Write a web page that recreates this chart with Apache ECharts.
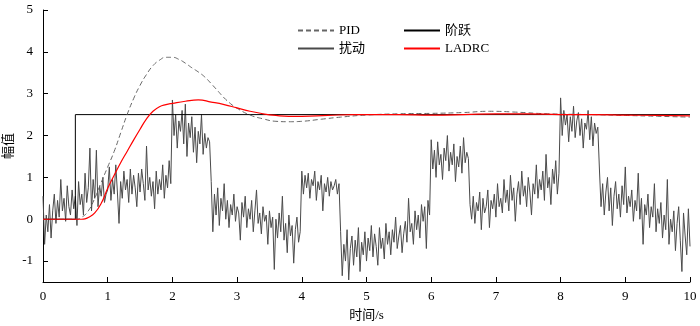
<!DOCTYPE html>
<html>
<head>
<meta charset="utf-8">
<script src="https://cdn.jsdelivr.net/npm/echarts@6/dist/echarts.min.js"></script>
<style>
  html, body { margin: 0; padding: 0; background: #fff; }
  #main { width: 700px; height: 326px; }
</style>
</head>
<body>
<div id="main"></div>
<script>
// sample step of the disturbance record, s
var dt = 0.025;

// disturbance (扰动), one value every 0.025 s from 0 to 10 s
var disturb = [
    // 0 - 2 s
    0.55, -0.6, 0.1, -0.3, 0.35, -0.45, 0.2, 0.6, -0.1, 0.45, 0.05, 0.95, 0.2, 0.5, -0.05, 0.8, 0.3, 0.1, 0.7, 0.25,
    0.55, -0.15, 0.9, 0.35, 0.6, 0.1, 1.1, 0.4, 0.75, 1.7, 0.2, 0.95, 0.5, 1.65, 0.3, 0.8, 0.55, 1.0, 0.4, 0.6,
    0.7, 1.25, 0.45, 0.95, 0.6, 1.3, 0.65, -0.1, 0.9, 0.5, 1.15, 0.7, 0.95, 0.4, 1.2, 0.6, 1.05, 0.75, 0.3, 1.1,
    0.65, 1.2, 0.85, 0.45, 1.75, 0.7, 1.0, 0.55, 0.9, 0.25, 1.15, 0.6, 0.95, 0.7, 1.3, 0.5, 1.05, 0.75, 1.4, 0.85,
    // 2 - 2.6 s
    2.85, 2.0, 2.5, 1.7, 2.35, 2.1, 2.6, 1.8, 2.75, 1.5, 2.3, 1.95, 2.45, 1.6, 2.2, 1.35, 2.1, 1.8, 2.5, 1.55, 2.05, 1.7, 1.95, 1.85,
    // 2.6 - 4 s
    0.9, -0.3, 0.6, 0.1, 0.75, -0.15, 0.5, 0.2, 0.85, 0.0, 0.45, -0.2, 0.35, 0.1, 0.6, -0.05, 0.3, 0.15, -0.5, 0.4,
    0.05, 0.55, -0.2, 0.25, 0.0, 0.45, -0.3, 0.2, 0.7, -0.1, 0.15, -0.35, 0.3, -0.05, 0.1, -0.6, 0.2, -0.2, 0.05, -1.2,
    0.0, -0.45, 0.15, -0.3, 0.55, -0.5, -0.1, -0.8, 0.1, -0.4, -0.15, -1.05, -0.25, 0.05, -0.55, -0.3,
    // 4 - 4.6 s
    1.15, 0.6, 1.05, 0.75, 1.1, 0.5, 0.95, 0.8, 1.15, 0.45, 0.9, 0.7, 1.05, 0.2, 0.85, 0.65, 1.0, 0.55, 0.9, 0.7, 0.8, 0.95, 0.6, 0.85,
    // 4.6 - 6 s
    -0.3, -1.35, -0.6, -1.0, -0.25, -1.45, -0.7, -0.4, -1.1, -0.5, -0.9, -0.2, -1.25, -0.55, -0.85, -0.3, -1.0, -0.45, -0.75, -0.15,
    -0.9, -0.35, -0.65, -1.1, -0.2, -0.7, -0.45, -0.95, -0.1, -0.6, -0.3, -0.85, -0.25, -0.55, 0.05, -0.7, -0.4, -0.15, -0.8, -0.35,
    -0.05, -0.55, 0.5, -0.3, -0.1, -0.6, 0.2, -0.25, 0.1, -0.45, 0.35, -0.05, 0.3, -0.7, 0.45, 0.1,
    // 6 - 6.6 s
    1.9, 1.2, 1.65, 1.0, 1.85, 1.3, 1.55, 0.95, 1.7, 1.4, 2.0, 1.15, 1.6, 1.3, 1.8, 0.9, 1.5, 1.25, 1.75, 1.1, 1.95, 1.35, 1.6, 1.45,
    // 6.6 - 8 s
    0.35, 0.0, 0.55, -0.1, 0.4, 0.2, 0.65, -0.25, 0.5, 0.15, 0.3, 0.7, -0.2, 0.45, 0.25, 0.6, 0.05, 0.85, 0.3, 0.5,
    0.15, 0.95, 0.4, 0.7, 0.2, 1.05, 0.45, 0.75, -0.05, 0.6, 0.9, 0.35, 1.15, 0.55, 0.8, 0.3, 1.0, 0.65, 0.1, 0.85,
    0.6, 1.3, 0.5, 0.95, 0.7, 1.15, 0.45, 1.55, 0.75, 1.0, 0.35, 1.2, 0.85, 1.4, 0.6, 1.1,
    // 8 - 8.6 s
    2.9, 2.0, 2.6, 2.25, 2.5, 1.85, 2.45, 2.1, 2.7, 1.95, 2.35, 2.55, 2.0, 2.4, 1.7, 2.3, 2.15, 2.6, 1.9, 2.45, 1.75, 2.3, 2.05, 2.2,
    // 8.6 - 10 s
    1.2, 0.3, 0.85, 0.1, 0.65, 1.0, 0.2, 0.75, -0.15, 0.55, 0.9, 0.25, 0.6, 0.05, 0.8, 0.35, 1.25, 0.15, 0.55, 0.3,
    0.7, -0.05, 0.45, 0.2, 1.1, 0.0, 0.5, -0.6, 0.35, 0.1, 0.6, -0.2, 0.3, 0.05, 0.85, -0.3, 0.25, -0.1, 0.4, -0.45,
    0.1, -0.25, 0.95, -0.6, 0.0, -0.3, 0.2, -0.75, -0.1, 0.3, -0.5, -1.25, 0.15, -0.4, -0.85, 0.25, -0.65
];

// step reference (阶跃)
var stepData = [[0, 0], [0.5, 0], [0.5, 2.5], [10, 2.5]];

// PID response
var pidData = [
    [0, 0], [0.5, 0], [0.6, 0.05], [0.7, 0.2], [0.8, 0.5], [0.9, 0.88], [1.0, 1.25], [1.1, 1.62],
    [1.2, 2.06], [1.3, 2.5], [1.4, 2.88], [1.5, 3.2], [1.6, 3.46], [1.7, 3.67], [1.8, 3.8], [1.9, 3.87],
    [2.0, 3.87], [2.1, 3.82], [2.2, 3.73], [2.3, 3.62], [2.4, 3.52], [2.5, 3.4], [2.6, 3.24], [2.7, 3.07],
    [2.8, 2.9], [2.9, 2.76], [3.0, 2.65], [3.2, 2.49], [3.4, 2.4], [3.6, 2.34], [3.8, 2.33], [4.0, 2.34],
    [4.3, 2.39], [4.6, 2.44], [5.0, 2.49], [5.5, 2.52], [6.0, 2.53], [6.5, 2.55], [6.9, 2.58], [7.3, 2.56],
    [7.8, 2.52], [8.5, 2.5], [9.0, 2.48], [9.5, 2.46], [10, 2.44]
];

// LADRC response
var ladrcData = [
    [0, 0], [0.6, 0], [0.65, 0.01], [0.7, 0.04], [0.8, 0.15], [0.9, 0.38], [1.0, 0.74], [1.1, 1.05],
    [1.2, 1.35], [1.3, 1.62], [1.4, 1.89], [1.5, 2.15], [1.6, 2.4], [1.7, 2.58], [1.8, 2.69], [1.9, 2.74],
    [2.0, 2.77], [2.2, 2.82], [2.4, 2.85], [2.6, 2.8], [2.8, 2.74], [3.0, 2.66], [3.2, 2.58], [3.4, 2.52],
    [3.6, 2.48], [3.8, 2.46], [4.0, 2.46], [4.4, 2.48], [4.8, 2.5], [5.5, 2.5], [6.0, 2.49], [6.5, 2.5],
    [7.0, 2.52], [7.5, 2.52], [8.0, 2.5], [8.5, 2.5], [9.0, 2.49], [9.5, 2.48], [10, 2.47]
];

var disturbData = disturb.map(function (v, i) {
    return [+(i * dt).toFixed(3), v];
});

var fontFamily = '"Liberation Serif", "Noto Sans CJK SC", serif';

var legendBase = {
    orient: 'vertical',
    top: 19,
    itemWidth: 36,
    itemHeight: 14,
    itemGap: 5,
    itemStyle: { opacity: 0 },
    textStyle: { fontFamily: fontFamily, fontSize: 13, color: '#000' }
};

var option = {
    animation: false,
    textStyle: { fontFamily: fontFamily },
    grid: { left: 43, right: 10, top: 10, bottom: 44, containLabel: false, outerBoundsMode: 'none' },
    legend: [
        Object.assign({ data: ['PID', '扰动'], left: 292 }, legendBase),
        Object.assign({ data: ['阶跃', 'LADRC'], left: 398 }, legendBase)
    ],
    xAxis: {
        type: 'value',
        min: 0,
        max: 10,
        interval: 1,
        name: '时间/s',
        nameLocation: 'middle',
        nameGap: 27,
        nameMoveOverlap: false,
        nameTextStyle: { fontFamily: fontFamily, fontSize: 13, color: '#000' },
        axisLine: { onZero: false, lineStyle: { color: '#000', width: 1 } },
        axisTick: { inside: true, length: 5, lineStyle: { color: '#000' } },
        axisLabel: { fontFamily: fontFamily, fontSize: 13, color: '#000', margin: 8 },
        splitLine: { show: false }
    },
    yAxis: {
        type: 'value',
        min: -1.5,
        max: 5,
        splitNumber: 6,
        name: '幅值',
        nameLocation: 'middle',
        nameRotate: 90,
        nameGap: 28,
        nameMoveOverlap: false,
        nameTextStyle: { fontFamily: fontFamily, fontSize: 13, color: '#000' },
        axisLine: { show: true, onZero: false, lineStyle: { color: '#000', width: 1 } },
        axisTick: { show: true, inside: true, length: 5, lineStyle: { color: '#000' } },
        axisLabel: { fontFamily: fontFamily, fontSize: 13, color: '#000', margin: 10, showMinLabel: false },
        splitLine: { show: false }
    },
    series: [{
        name: '扰动',
        type: 'line',
        symbol: 'none',
        data: disturbData,
        lineStyle: { color: '#4a4a4a', width: 1 },
        itemStyle: { color: '#4a4a4a' },
        z: 1
    }, {
        name: '阶跃',
        type: 'line',
        symbol: 'none',
        data: stepData,
        lineStyle: { color: '#000', width: 1 },
        itemStyle: { color: '#000' },
        z: 2
    }, {
        name: 'PID',
        type: 'line',
        symbol: 'none',
        smooth: true,
        data: pidData,
        lineStyle: { color: '#666', width: 1, type: [5, 3] },
        itemStyle: { color: '#666' },
        z: 3
    }, {
        name: 'LADRC',
        type: 'line',
        symbol: 'none',
        smooth: true,
        data: ladrcData,
        lineStyle: { color: '#ff0000', width: 1.2 },
        itemStyle: { color: '#ff0000' },
        z: 4
    }]
};

var chart = echarts.init(document.getElementById('main'));
chart.setOption(option);
</script>
</body>
</html>
